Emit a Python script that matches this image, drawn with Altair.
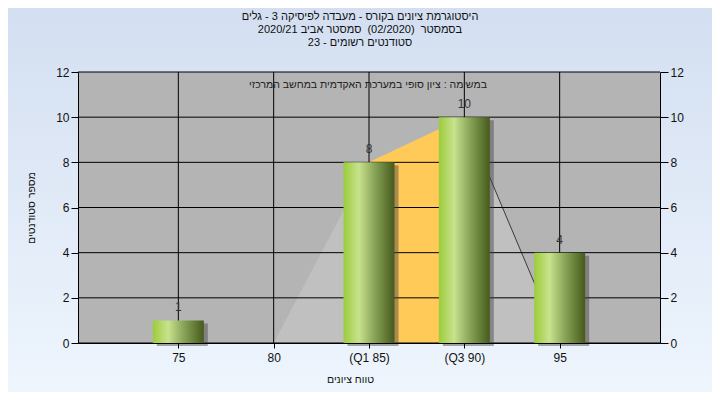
import altair as alt
import pandas as pd

# ---- data ----
grades = [75, 80, 85, 90, 95]
counts = [1, 0, 8, 10, 4]
tick_labels = ["75", "80", "(Q1 85)", "(Q3 90)", "95"]
curve_x = [75, 80, 85, 90, 95]
curve_y = [0, 0, 8, 10, 0]
q1, q3 = 85, 90
y_ticks = [0, 2, 4, 6, 8, 10, 12]
title_lines = [
    "היסטוגרמת ציונים בקורס - מעבדה לפיסיקה 3 - גלים",
    "בסמסטר \u00a0(02/2020) \u00a0סמסטר אביב 2020/21",
    "סטודנטים רשומים - 23",
]
note = "במשימה : ציון סופי במערכת האקדמית במחשב המרכזי"
x_title = "טווח ציונים"
y_title = "מספר סטודנטים"

W, H = 582, 271
PL, PT, PR, PB = 70, 64, 52, 49
FONT = "Liberation Sans"
HEB = 10.5

bars_df = pd.DataFrame({"grade": grades, "count": counts})
curve_df = pd.DataFrame({"grade": curve_x, "value": curve_y})
one = pd.DataFrame({"a": [0]})

xscale = alt.Scale(domain=[70, 100], nice=False, zero=False)
yscale = alt.Scale(domain=[0, 12], nice=False)

label_expr = "datum.label"
for g, lab in zip(grades, tick_labels):
    label_expr = f"datum.value == {g} ? '{lab}' : (" + label_expr + ")"

# background gradient (whole canvas)
bg = alt.Chart(one).mark_rect(
    fill=alt.Gradient(
        gradient="linear",
        stops=[alt.GradientStop(color="#d3dff1", offset=0),
               alt.GradientStop(color="#eef5fd", offset=1)],
        x1=0, x2=0, y1=0, y2=1,
    )
).encode(x=alt.value(-PL), x2=alt.value(W + PR), y=alt.value(-PT), y2=alt.value(H + PB))

plotbg = alt.Chart(one).mark_rect(fill="#b4b4b4").encode(
    x=alt.value(0), x2=alt.value(W), y=alt.value(0), y2=alt.value(H)
)

hgrid = alt.Chart(pd.DataFrame({"y": y_ticks})).mark_rule(color="black", strokeWidth=1).encode(
    y=alt.Y("y:Q", scale=yscale, axis=alt.Axis(
        orient="left", values=y_ticks, tickSize=7, labelPadding=2, grid=False,
        domainColor="black", tickColor="black", labelColor="#111", labelFontSize=12,
        labelFont=FONT, title=y_title, titleFont=FONT, titleFontSize=HEB,
        titleFontWeight="normal", titleColor="#111", titlePadding=19, zindex=1,
    ))
)

vgrid = alt.Chart(pd.DataFrame({"x": grades})).mark_rule(color="black", strokeWidth=1).encode(
    x=alt.X("x:Q", scale=xscale, axis=alt.Axis(
        orient="bottom", values=grades, labelExpr=label_expr, tickSize=5, labelPadding=4,
        grid=False, domainColor="black", tickColor="black", labelColor="#111",
        labelFontSize=12, labelFont=FONT, title=x_title, titleFont=FONT, titleFontSize=HEB,
        titleFontWeight="normal", titleColor="#111", titleX=272, titleY=31, zindex=1,
    ))
)

area_all = alt.Chart(curve_df).mark_area(color="#c0c0c0").encode(
    x=alt.X("grade:Q", scale=xscale, axis=None),
    y=alt.Y("value:Q", scale=yscale, axis=None),
)
area_q = alt.Chart(curve_df).mark_area(color="#ffca58").encode(
    x=alt.X("grade:Q", scale=xscale, axis=None),
    y=alt.Y("value:Q", scale=yscale, axis=None),
).transform_filter(f"datum.grade >= {q1} && datum.grade <= {q3}")
line_r = alt.Chart(curve_df).mark_line(color="#3a3a3a", strokeWidth=1).encode(
    x=alt.X("grade:Q", scale=xscale, axis=None),
    y=alt.Y("value:Q", scale=yscale, axis=None),
).transform_filter(f"datum.grade >= {q3}")

shadow = alt.Chart(bars_df).mark_bar(size=51, color="#404040", opacity=0.45, xOffset=4, yOffset=3).encode(
    x=alt.X("grade:Q", scale=xscale, axis=None),
    y=alt.Y("count:Q", scale=yscale, axis=None),
).transform_filter("datum.count > 0")

bars = alt.Chart(bars_df).mark_bar(
    size=51,
    color=alt.Gradient(
        gradient="linear",
        stops=[alt.GradientStop(color="#9ccc3a", offset=0),
               alt.GradientStop(color="#c8e28e", offset=0.3),
               alt.GradientStop(color="#8aa558", offset=0.6),
               alt.GradientStop(color="#465a1c", offset=1)],
        x1=0, x2=1, y1=0, y2=0,
    ),
).encode(
    x=alt.X("grade:Q", scale=xscale, axis=None),
    y=alt.Y("count:Q", scale=yscale, axis=alt.Axis(
        orient="right", values=y_ticks, tickSize=8, labelPadding=2, grid=False,
        domainColor="black", tickColor="black", labelColor="#111", labelFontSize=12,
        labelFont=FONT, title=None, zindex=1,
    )),
).transform_filter("datum.count > 0")

labels = alt.Chart(bars_df).mark_text(
    baseline="bottom", dy=-6, fontSize=12, font=FONT, color="#333"
).encode(
    x=alt.X("grade:Q", scale=xscale, axis=None),
    y=alt.Y("count:Q", scale=yscale, axis=None),
    text="count:Q",
).transform_filter("datum.count > 0")

note_txt = alt.Chart(one).mark_text(
    fontSize=HEB, font=FONT, color="#222", align="center", baseline="middle"
).encode(x=alt.value(290), y=alt.value(13), text=alt.value(note))

title_layers = []
for line, yy in zip(title_lines, [-55, -42, -29]):
    title_layers.append(
        alt.Chart(one).mark_text(
            fontSize=11, font=FONT, color="#111", align="center", baseline="middle"
        ).encode(x=alt.value(282), y=alt.value(yy), text=alt.value(line))
    )

chart = alt.layer(
    bg, plotbg, area_all, area_q, line_r, hgrid, vgrid, shadow, bars, labels, note_txt,
    *title_layers
).resolve_axis(x="independent", y="independent").properties(
    width=W, height=H,
    autosize=alt.AutoSizeParams(type="none"),
    padding={"left": PL, "top": PT, "right": PR, "bottom": PB},
).configure_view(stroke=None).configure(background="#eef5fd")

chart.save("out.html", embed_options={"renderer": "svg", "actions": False})
